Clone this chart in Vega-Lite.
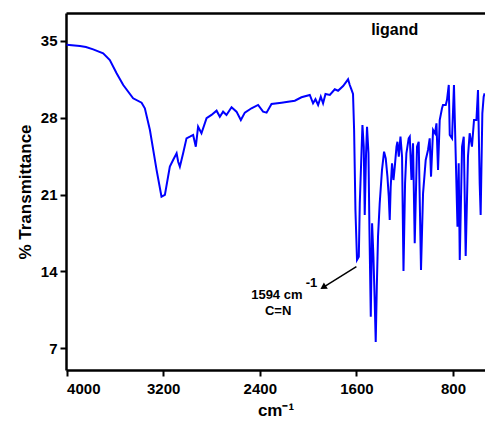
{
  "$schema": "https://vega.github.io/schema/vega-lite/v6.json",
  "width": 419,
  "height": 357,
  "autosize": {"type": "none"},
  "padding": {"left": 66, "top": 13, "right": 0, "bottom": 51},
  "background": "white",
  "config": {
    "view": {"stroke": null},
    "axis": {
      "grid": false,
      "domainColor": "black",
      "domainWidth": 2.5,
      "tickColor": "black",
      "tickWidth": 2,
      "tickSize": 6,
      "labelFont": "Liberation Sans",
      "labelFontWeight": "bold",
      "labelFontSize": 15,
      "labelColor": "black",
      "titleFont": "Liberation Sans",
      "titleFontWeight": "bold",
      "titleFontSize": 17,
      "titleColor": "black"
    }
  },
  "datasets": {
    "spectrum": [
      {"wn": 4000, "t": 34.66}, {"wn": 3890, "t": 34.54}, {"wn": 3840, "t": 34.45}, {"wn": 3780, "t": 34.24},
      {"wn": 3697, "t": 33.88}, {"wn": 3642, "t": 33.27}, {"wn": 3586, "t": 32.06}, {"wn": 3531, "t": 30.99},
      {"wn": 3449, "t": 29.78}, {"wn": 3379, "t": 29.38}, {"wn": 3352, "t": 28.87}, {"wn": 3310, "t": 26.89},
      {"wn": 3255, "t": 23.25}, {"wn": 3214, "t": 20.81}, {"wn": 3186, "t": 20.97}, {"wn": 3145, "t": 23.55},
      {"wn": 3118, "t": 24.16}, {"wn": 3089, "t": 24.77}, {"wn": 3076, "t": 24.0}, {"wn": 3062, "t": 23.55},
      {"wn": 3035, "t": 24.77}, {"wn": 3007, "t": 26.13}, {"wn": 2979, "t": 26.28}, {"wn": 2952, "t": 26.44},
      {"wn": 2930, "t": 25.37}, {"wn": 2911, "t": 27.19}, {"wn": 2883, "t": 26.59}, {"wn": 2841, "t": 27.96},
      {"wn": 2800, "t": 28.26}, {"wn": 2758, "t": 28.65}, {"wn": 2731, "t": 28.10}, {"wn": 2704, "t": 28.56},
      {"wn": 2676, "t": 28.26}, {"wn": 2634, "t": 28.96}, {"wn": 2593, "t": 28.56}, {"wn": 2557, "t": 27.80},
      {"wn": 2524, "t": 28.47}, {"wn": 2469, "t": 28.87}, {"wn": 2414, "t": 29.17}, {"wn": 2373, "t": 28.56},
      {"wn": 2344, "t": 28.47}, {"wn": 2303, "t": 29.26}, {"wn": 2220, "t": 29.38}, {"wn": 2166, "t": 29.47},
      {"wn": 2110, "t": 29.56}, {"wn": 2055, "t": 29.87}, {"wn": 1986, "t": 30.08}, {"wn": 1959, "t": 29.32},
      {"wn": 1939, "t": 29.69}, {"wn": 1917, "t": 29.17}, {"wn": 1895, "t": 29.92}, {"wn": 1876, "t": 29.32},
      {"wn": 1856, "t": 30.17}, {"wn": 1820, "t": 30.08}, {"wn": 1779, "t": 30.60}, {"wn": 1752, "t": 30.47},
      {"wn": 1710, "t": 30.90}, {"wn": 1669, "t": 31.51}, {"wn": 1655, "t": 30.99}, {"wn": 1643, "t": 30.63},
      {"wn": 1628, "t": 30.17}, {"wn": 1619, "t": 26.89}, {"wn": 1608, "t": 19.60}, {"wn": 1595, "t": 15.05},
      {"wn": 1580, "t": 15.35}, {"wn": 1572, "t": 20.21}, {"wn": 1558, "t": 24.77}, {"wn": 1550, "t": 27.35},
      {"wn": 1539, "t": 25.37}, {"wn": 1531, "t": 19.15}, {"wn": 1520, "t": 24.77}, {"wn": 1512, "t": 27.19},
      {"wn": 1500, "t": 24.77}, {"wn": 1492, "t": 17.78}, {"wn": 1481, "t": 9.88}, {"wn": 1470, "t": 18.39},
      {"wn": 1459, "t": 15.35}, {"wn": 1448, "t": 11.10}, {"wn": 1440, "t": 7.57}, {"wn": 1431, "t": 12.61},
      {"wn": 1421, "t": 17.17}, {"wn": 1407, "t": 20.21}, {"wn": 1388, "t": 23.25}, {"wn": 1371, "t": 24.91},
      {"wn": 1357, "t": 24.31}, {"wn": 1343, "t": 22.64}, {"wn": 1332, "t": 20.81}, {"wn": 1324, "t": 18.69},
      {"wn": 1316, "t": 21.72}, {"wn": 1305, "t": 23.86}, {"wn": 1293, "t": 22.33}, {"wn": 1282, "t": 23.55},
      {"wn": 1268, "t": 25.37}, {"wn": 1260, "t": 25.82}, {"wn": 1249, "t": 24.46}, {"wn": 1235, "t": 26.28},
      {"wn": 1222, "t": 24.46}, {"wn": 1210, "t": 14.04}, {"wn": 1197, "t": 22.03}, {"wn": 1186, "t": 24.77},
      {"wn": 1167, "t": 26.13}, {"wn": 1158, "t": 26.28}, {"wn": 1144, "t": 22.33}, {"wn": 1131, "t": 25.68},
      {"wn": 1117, "t": 16.57}, {"wn": 1098, "t": 25.37}, {"wn": 1084, "t": 25.82}, {"wn": 1065, "t": 14.13},
      {"wn": 1048, "t": 21.12}, {"wn": 1026, "t": 24.16}, {"wn": 1007, "t": 25.07}, {"wn": 993, "t": 26.13},
      {"wn": 982, "t": 22.64}, {"wn": 965, "t": 26.89}, {"wn": 949, "t": 26.59}, {"wn": 937, "t": 27.50},
      {"wn": 924, "t": 23.25}, {"wn": 910, "t": 27.80}, {"wn": 891, "t": 28.87}, {"wn": 883, "t": 29.17},
      {"wn": 860, "t": 29.17}, {"wn": 850, "t": 29.62}, {"wn": 835, "t": 30.99}, {"wn": 827, "t": 26.44},
      {"wn": 808, "t": 26.13}, {"wn": 792, "t": 30.99}, {"wn": 778, "t": 24.77}, {"wn": 763, "t": 18.08},
      {"wn": 753, "t": 23.86}, {"wn": 744, "t": 15.05}, {"wn": 725, "t": 25.37}, {"wn": 711, "t": 26.28},
      {"wn": 695, "t": 15.41}, {"wn": 676, "t": 24.46}, {"wn": 662, "t": 26.59}, {"wn": 643, "t": 25.37},
      {"wn": 626, "t": 27.80}, {"wn": 606, "t": 27.80}, {"wn": 593, "t": 30.54}, {"wn": 579, "t": 22.03},
      {"wn": 571, "t": 19.15}, {"wn": 557, "t": 28.41}, {"wn": 546, "t": 29.92}, {"wn": 538, "t": 30.23}
    ],
    "arrow": [{"x1": 1600, "y1": 14.43, "x2": 1862, "y2": 12.64}],
    "arrowhead": [{"x": 1868, "y": 12.6}],
    "title": [{"x": 1283, "y": 36.0, "label": "ligand"}],
    "notes": [
      {"x": 2259, "y": 11.52, "label": "1594 cm"},
      {"x": 1972, "y": 12.56, "label": "-1"},
      {"x": 2248, "y": 10.03, "label": "C=N"}
    ]
  },
  "layer": [
    {
      "data": {"name": "spectrum"},
      "mark": {"type": "line", "color": "#0000FF", "strokeWidth": 2, "clip": true},
      "encoding": {
        "x": {"field": "wn", "type": "quantitative",
              "scale": {"domain": [4005, 535], "nice": false, "zero": false},
              "axis": {"values": [4000, 3200, 2400, 1600, 800], "title": "cm⁻¹", "labelPadding": 5, "titlePadding": 6, "format": "d"}},
        "y": {"field": "t", "type": "quantitative",
              "scale": {"domain": [5.02, 37.55], "nice": false, "zero": false},
              "axis": {"values": [7, 14, 21, 28, 35], "title": "% Transmittance", "labelPadding": 3, "titlePadding": 6}}
      }
    },
    {
      "data": {"name": "arrow"},
      "mark": {"type": "rule", "color": "black", "strokeWidth": 1.5},
      "encoding": {
        "x": {"field": "x1", "type": "quantitative", "scale": {"domain": [4005, 535], "nice": false, "zero": false}, "axis": null},
        "y": {"field": "y1", "type": "quantitative", "scale": {"domain": [5.02, 37.55], "nice": false, "zero": false}, "axis": null},
        "x2": {"field": "x2"},
        "y2": {"field": "y2"}
      }
    },
    {
      "data": {"name": "arrowhead"},
      "mark": {"type": "point", "shape": "triangle", "filled": true, "color": "black", "size": 55, "angle": 238, "opacity": 1},
      "encoding": {
        "x": {"field": "x", "type": "quantitative", "scale": {"domain": [4005, 535], "nice": false, "zero": false}, "axis": null},
        "y": {"field": "y", "type": "quantitative", "scale": {"domain": [5.02, 37.55], "nice": false, "zero": false}, "axis": null}
      }
    },
    {
      "data": {"name": "notes"},
      "mark": {"type": "text", "font": "Liberation Sans", "fontWeight": "bold", "fontSize": 13, "color": "black", "baseline": "alphabetic", "align": "center"},
      "encoding": {
        "x": {"field": "x", "type": "quantitative", "scale": {"domain": [4005, 535], "nice": false, "zero": false}, "axis": null},
        "y": {"field": "y", "type": "quantitative", "scale": {"domain": [5.02, 37.55], "nice": false, "zero": false}, "axis": null},
        "text": {"field": "label"}
      }
    },
    {
      "data": {"name": "title"},
      "mark": {"type": "text", "font": "Liberation Sans", "fontWeight": "bold", "fontSize": 16, "color": "black", "baseline": "middle", "align": "center"},
      "encoding": {
        "x": {"field": "x", "type": "quantitative", "scale": {"domain": [4005, 535], "nice": false, "zero": false},
              "axis": {"orient": "top", "labels": false, "ticks": false, "title": null}},
        "y": {"field": "y", "type": "quantitative", "scale": {"domain": [5.02, 37.55], "nice": false, "zero": false}, "axis": null},
        "text": {"field": "label"}
      }
    }
  ],
  "resolve": {"axis": {"x": "independent", "y": "independent"}}
}
